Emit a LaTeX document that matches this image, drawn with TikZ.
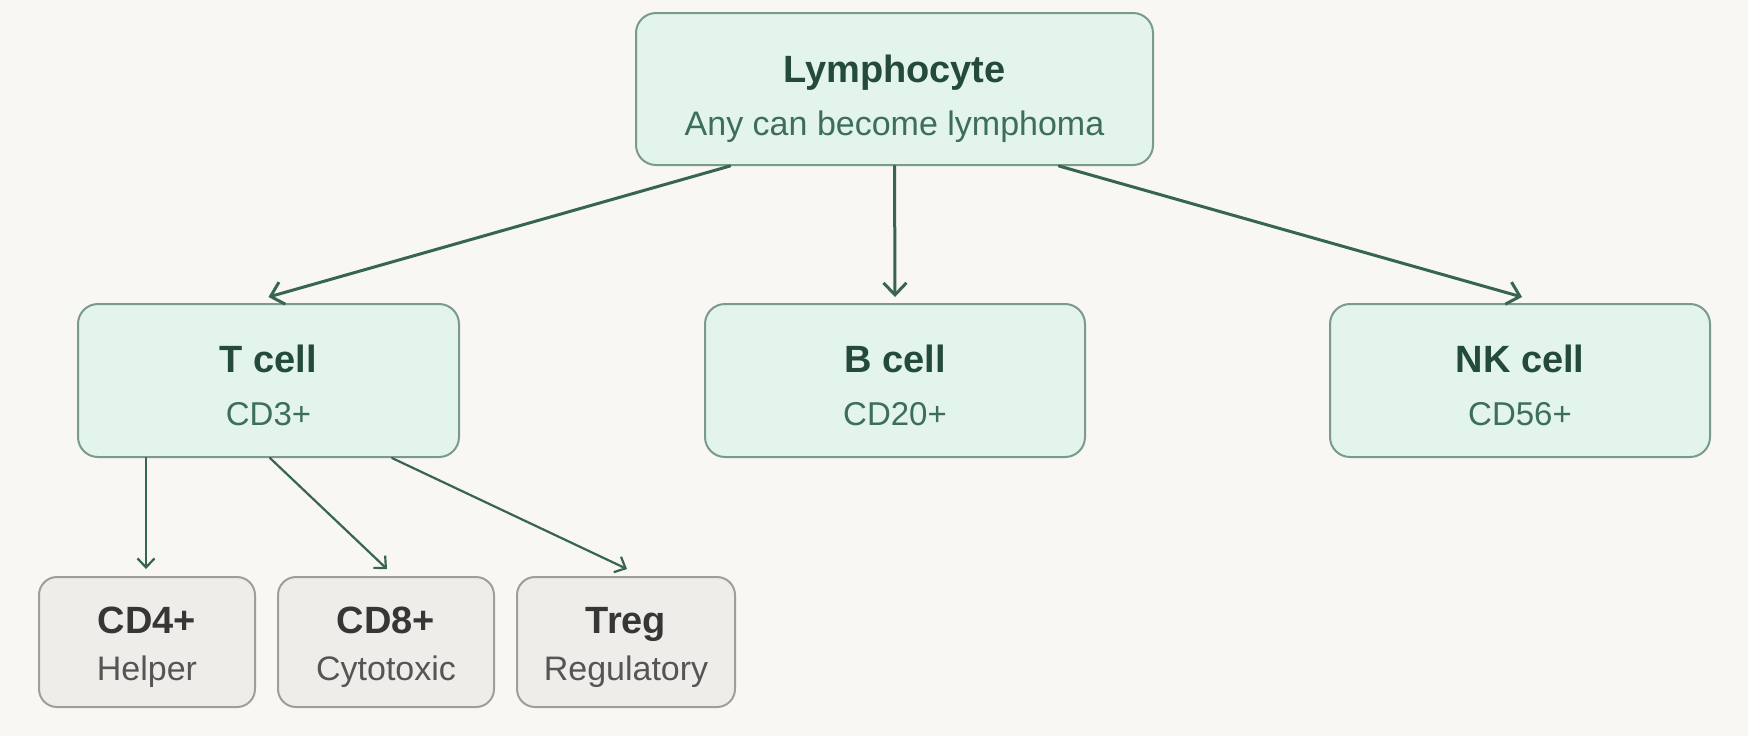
\documentclass[tikz,border=0pt]{standalone}
\usepackage{fontspec}
\setmainfont{Liberation Sans}
\usetikzlibrary{arrows.meta,calc}
\definecolor{bgc}{HTML}{F8F7F3}
\definecolor{gfill}{HTML}{E3F4EC}
\definecolor{gborder}{HTML}{7A9B8A}
\definecolor{arrc}{HTML}{37654F}
\definecolor{gtitle}{HTML}{234A3A}
\definecolor{gsub}{HTML}{3D6E58}
\definecolor{yfill}{HTML}{EFEDE9}
\definecolor{yborder}{HTML}{A09E99}
\definecolor{ytitle}{HTML}{363634}
\definecolor{ysub}{HTML}{555553}
\begin{document}
\begin{tikzpicture}[x=0.5pt,y=-0.5pt,
  greenbox/.style={draw=gborder, fill=gfill, line width=1pt, rounded corners=10pt, minimum width=#1, minimum height=76.5pt, inner sep=0pt},
  graybox/.style={draw=yborder, fill=yfill, line width=1pt, rounded corners=9pt, minimum width=#1, minimum height=65pt, inner sep=0pt},
  gtitletext/.style={anchor=base, inner sep=0pt, text=gtitle, font=\fontsize{19}{23}\selectfont\bfseries},
  gsubtext/.style={anchor=base, inner sep=0pt, text=gsub, font=\fontsize{16.5}{20}\selectfont},
  ytitletext/.style={anchor=base, inner sep=0pt, text=ytitle, font=\fontsize{19}{23}\selectfont\bfseries},
  ysubtext/.style={anchor=base, inner sep=0pt, text=ysub, font=\fontsize{17}{20}\selectfont},
  bigarrow/.style={draw=arrc, line width=1.5pt, line cap=round, -{Straight Barb[length=6pt,width=11.5pt,line width=1.5pt]}},
  smallarrow/.style={draw=arrc, line width=1.1pt, line cap=round, -{Straight Barb[length=4.5pt,width=8.5pt,line width=1.1pt]}}
]
\useasboundingbox[fill=bgc] (0,0) rectangle (1748,736);

% boxes
\node[greenbox=258.5pt, minimum height=76pt] (lym) at (894.5,89) {};
\node[greenbox=190.5pt] (tcell) at (268.5,380.5) {};
\node[greenbox=190pt] (bcell) at (895,380.5) {};
\node[greenbox=190pt] (nkcell) at (1520,380.5) {};
\node[graybox=108pt] (cdfour) at (147,642) {};
\node[graybox=108pt] (cdeight) at (386,642) {};
\node[graybox=109pt] (treg) at (626,642) {};

% texts
\node[gtitletext] (lymT) at (894.5,82) {Lymphocyte};
\node[gsubtext, font=\fontsize{17}{20}\selectfont] (lymS) at (894.5,135) {Any can become lymphoma};
\node[gtitletext] (tT) at (268.5,372) {T cell};
\node[gsubtext] (tS) at (268.5,425) {CD3+};
\node[gtitletext] (bT) at (895,372) {B cell};
\node[gsubtext] (bS) at (895,425) {CD20+};
\node[gtitletext] (nkT) at (1520,372) {NK cell};
\node[gsubtext] (nkS) at (1520,425) {CD56+};
\node[ytitletext] (c4T) at (147,633) {CD4+};
\node[ysubtext] (c4S) at (147,680) {Helper};
\node[ytitletext] (c8T) at (386,633) {CD8+};
\node[ysubtext] (c8S) at (386,680) {Cytotoxic};
\node[ytitletext] (trT) at (626,633) {Treg};
\node[ysubtext] (trS) at (626,680) {Regulatory};

% connectors
\draw[bigarrow] ([xshift=-82.25pt]lym.south) -- ([yshift=3pt]tcell.north);
\draw[bigarrow] (lym.south) -- ([yshift=3pt]bcell.north);
\draw[bigarrow] ([xshift=82.25pt]lym.south) -- ([xshift=1pt,yshift=3pt]nkcell.north);
\draw[smallarrow] ([xshift=-61.25pt]tcell.south) -- ([xshift=-0.5pt,yshift=3.5pt]cdfour.north);
\draw[smallarrow] ([xshift=0.75pt]tcell.south) -- ([xshift=0.5pt,yshift=3.5pt]cdeight.north);
\draw[smallarrow] ([xshift=61.75pt]tcell.south) -- ([xshift=0.5pt,yshift=3.5pt]treg.north);
\end{tikzpicture}
\end{document}
